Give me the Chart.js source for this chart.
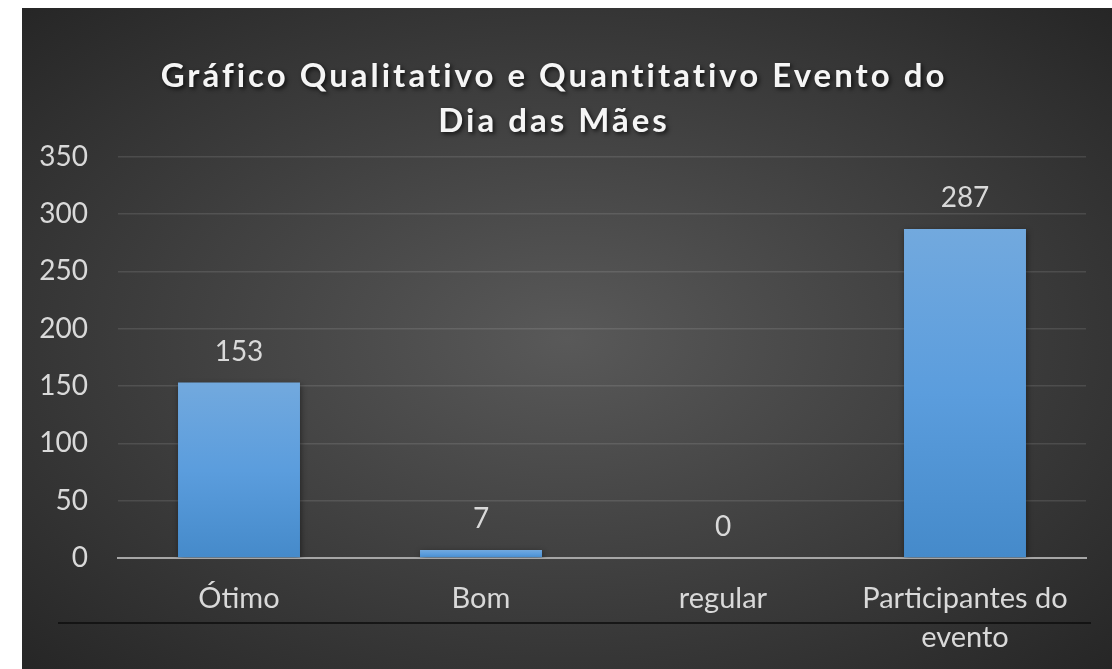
<!DOCTYPE html>
<html>
<head>
<meta charset="utf-8">
<script src="https://cdn.jsdelivr.net/npm/chart.js@4.4.1/dist/chart.umd.min.js"></script>
<style>
  html, body { margin: 0; padding: 0; background: #ffffff; width: 1112px; height: 669px; overflow: hidden; }
  #wrap {
    position: absolute; left: 22px; top: 8px; width: 1090px; height: 661px;
    background: radial-gradient(ellipse farthest-corner at 50% 50%, #595959 0%, #262626 100%);
  }
  canvas { display: block; }
</style>
</head>
<body>
<div id="wrap"><canvas id="c" width="1090" height="661"></canvas></div>
<script>
const titleLines = ['Gráfico Qualitativo e Quantitativo Evento do', 'Dia das Mães'];
const categories = ['Ótimo', 'Bom', 'regular', ['Participantes do', 'evento']];
const values = [153, 7, 0, 287];
const yMin = 0;
const yMax = 350;
const yStep = 50;

const FONT = "Lato, 'Open Sans', 'DejaVu Sans', sans-serif";
const TXT = '#d9d9d9';

function barFill(ctx) {
  const chart = ctx.chart;
  const area = chart.chartArea;
  if (!area || ctx.type !== 'data' || !chart.scales.y) return '#5b9bd5';
  const ys = chart.scales.y;
  const top = ys.getPixelForValue(ctx.raw);
  const base = ys.getPixelForValue(0);
  if (base - top < 1) return '#5b9bd5';
  const g = chart.ctx.createLinearGradient(0, top, 0, base);
  g.addColorStop(0, '#72a9de');
  g.addColorStop(0.5, '#5b9ddd');
  g.addColorStop(1, '#458aca');
  return g;
}

const titleStyle = {
  id: 'titleStyle',
  beforeDraw(chart) {
    const tb = chart.titleBlock;
    if (tb && !tb._styled) {
      const orig = tb.draw;
      tb.draw = function (area) {
        const c = this.ctx;
        c.save();
        c.letterSpacing = '3px';
        c.shadowColor = 'rgba(0,0,0,0.7)';
        c.shadowBlur = 4;
        c.shadowOffsetX = 2;
        c.shadowOffsetY = 2;
        orig.call(this, area);
        c.restore();
      };
      tb._styled = true;
    }
  }
};

const barShadow = {
  id: 'barShadow',
  beforeDatasetsDraw(chart) {
    const c = chart.ctx;
    c.save();
    c.shadowColor = 'rgba(0,0,0,0.45)';
    c.shadowBlur = 6;
    c.shadowOffsetX = 1;
    c.shadowOffsetY = 2;
  },
  afterDatasetsDraw(chart) {
    chart.ctx.restore();
  }
};

const valueLabels = {
  id: 'valueLabels',
  afterDatasetsDraw(chart) {
    const c = chart.ctx;
    const meta = chart.getDatasetMeta(0);
    c.save();
    c.fillStyle = TXT;
    c.font = '28px ' + FONT;
    c.textAlign = 'center';
    c.textBaseline = 'middle';
    meta.data.forEach((el, i) => {
      c.fillText(String(chart.data.datasets[0].data[i]), el.x, el.y - 31);
    });
    c.restore();
  }
};

const underline = {
  id: 'underline',
  afterDraw(chart) {
    const a = chart.chartArea;
    const c = chart.ctx;
    c.save();
    c.strokeStyle = '#0d0d0d';
    c.lineWidth = 1.5;
    c.beginPath();
    c.moveTo(a.left - 60, a.bottom + 65);
    c.lineTo(a.right + 5, a.bottom + 65);
    c.stroke();
    c.restore();
  }
};

new Chart(document.getElementById('c'), {
  type: 'bar',
  data: {
    labels: categories,
    datasets: [{
      data: values,
      backgroundColor: barFill,
      borderWidth: 0,
      barPercentage: 0.504,
      categoryPercentage: 1.0
    }]
  },
  options: {
    responsive: false,
    animation: false,
    events: [],
    layout: { padding: { top: 0, right: 26, left: 0, bottom: 0 } },
    plugins: {
      legend: { display: false },
      tooltip: { enabled: false },
      title: {
        display: true,
        text: titleLines,
        color: '#f5f5f5',
        font: { family: FONT, size: 33, weight: 'bold', lineHeight: 1.36 },
        padding: { top: 46, bottom: 13 }
      }
    },
    scales: {
      x: {
        grid: { display: false, drawTicks: false },
        border: { display: true, color: '#a6a6a6', width: 2 },
        ticks: {
          color: TXT,
          font: { family: FONT, size: 29, lineHeight: 1.32 },
          padding: 22,
          maxRotation: 0,
          autoSkip: false
        },
        afterFit(s) { s.height = 111; }
      },
      y: {
        min: yMin,
        max: yMax,
        grid: { color: 'rgba(255,255,255,0.11)', lineWidth: 1.5, drawTicks: false },
        border: { display: false },
        ticks: {
          stepSize: yStep,
          color: TXT,
          font: { family: FONT, size: 28 },
          padding: 30
        },
        afterFit(s) { s.width = 96; }
      }
    }
  },
  plugins: [titleStyle, barShadow, valueLabels, underline]
});
</script>
</body>
</html>
